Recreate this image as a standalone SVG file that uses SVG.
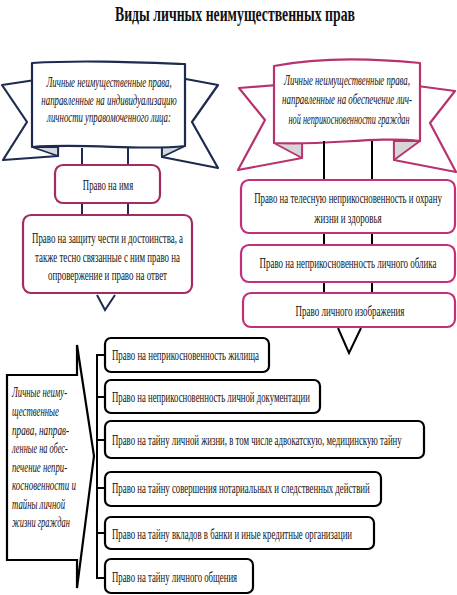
<svg xmlns="http://www.w3.org/2000/svg" width="457" height="595" viewBox="0 0 457 595">
<style>
.nv{fill:#fff;stroke:#1c2b4f;stroke-width:2.2;stroke-linejoin:round}
.mg{fill:#fff;stroke:#b8326f;stroke-width:2.2;stroke-linejoin:round}
.fnv{fill:#d3d9df;stroke:#1c2b4f;stroke-width:1.8;stroke-linejoin:round}
.fmg{fill:#d6d6d6;stroke:#b8326f;stroke-width:1.8;stroke-linejoin:round}
.bl{fill:#fff;stroke:#a52a60;stroke-width:2.2}
.br{fill:#fff;stroke:#c2307b;stroke-width:2.2}
.bk{fill:#fff;stroke:#000;stroke-width:2.2}
.t{font-family:"Liberation Serif","DejaVu Serif",serif;font-size:14px;fill:#111}
.it{font-style:italic}
.c{text-anchor:middle}
.ln{fill:none;stroke-width:2}
</style>
<g id="title"><text class="t c" transform="translate(235,21) scale(0.68,1)" style="font-size:22px;font-weight:bold" textLength="353" lengthAdjust="spacingAndGlyphs">Виды личных неимущественных прав</text></g>

<g id="ribbon-left">
<polygon class="nv" points="42,79 2,85 27,122 3,160 58,156 58,140"/>
<polygon class="fnv" points="32,147 58,147 58,156"/>
<polygon class="nv" points="175,77 218,85 192,122 218,168 162,157 162,140"/>
<polygon class="fnv" points="185,146 162,146 162,157"/>
<path class="nv" d="M32,63 C80,60 130,62 185,64 L185,146 C140,151 90,143 32,147 Z"/>
<text class="t it c" transform="translate(109,87) scale(0.68,1)" textLength="184" lengthAdjust="spacingAndGlyphs">Личные неимущественные права,</text>
<text class="t it c" transform="translate(109,105) scale(0.68,1)" textLength="199" lengthAdjust="spacingAndGlyphs">направленные на индивидуализацию</text>
<text class="t it c" transform="translate(109,122) scale(0.68,1)" textLength="182" lengthAdjust="spacingAndGlyphs">личности управомоченного лица:</text>
</g>

<g id="ribbon-right">
<polygon class="mg" points="290,84 239,88 265,120 238,170 302,158 302,140"/>
<polygon class="fmg" points="274,143 302,143 302,158"/>
<polygon class="mg" points="410,85 455,91 430,123 456,172 394,160 394,140"/>
<polygon class="fmg" points="420,141 394,141 394,160"/>
<path class="mg" d="M274,66 C320,57 370,58 420,63 L420,141 C375,136 325,146 274,143 Z"/>
<text class="t it c" transform="translate(347,85) scale(0.68,1)" textLength="185" lengthAdjust="spacingAndGlyphs">Личные неимущественные права,</text>
<text class="t it c" transform="translate(347,104) scale(0.68,1)" textLength="191" lengthAdjust="spacingAndGlyphs">направленные на обеспечение лич-</text>
<text class="t it c" transform="translate(349,124) scale(0.68,1)" textLength="178" lengthAdjust="spacingAndGlyphs">ной неприкосновенности граждан</text>
</g>

<g id="connectors">
<line class="ln" stroke="#1c2b4f" x1="82" y1="148" x2="82" y2="215"/>
<line class="ln" stroke="#1c2b4f" x1="128" y1="148" x2="128" y2="215"/>
<polyline class="ln" stroke="#1c2b4f" points="97,295 105,310 115,295"/>
<line class="ln" stroke="#000" x1="324" y1="141" x2="324" y2="293"/>
<line class="ln" stroke="#000" x1="372" y1="141" x2="372" y2="293"/>
<polyline class="ln" stroke="#000" points="338,328 349,353 361,328"/>
<line class="ln" stroke="#000" x1="97" y1="354" x2="97" y2="579"/>
<line class="ln" stroke="#000" x1="96" y1="355" x2="105" y2="355"/>
<line class="ln" stroke="#000" x1="96" y1="397" x2="105" y2="397"/>
<line class="ln" stroke="#000" x1="96" y1="440" x2="105" y2="440"/>
<line class="ln" stroke="#000" x1="96" y1="488" x2="105" y2="488"/>
<line class="ln" stroke="#000" x1="96" y1="533" x2="105" y2="533"/>
<line class="ln" stroke="#000" x1="96" y1="578" x2="105" y2="578"/>
</g>

<g id="box-name">
<rect class="bl" x="55" y="165" width="105" height="38" rx="8"/>
<text class="t c" transform="translate(108,189.5) scale(0.68,1)" textLength="74" lengthAdjust="spacingAndGlyphs">Право на имя</text>
</g>
<g id="box-honor">
<rect class="bl" x="23" y="215" width="169" height="78" rx="8"/>
<text class="t c" transform="translate(107.5,242.5) scale(0.68,1)" textLength="222" lengthAdjust="spacingAndGlyphs">Право на защиту чести и достоинства, а</text>
<text class="t c" transform="translate(107.5,261.5) scale(0.68,1)" textLength="213" lengthAdjust="spacingAndGlyphs">также тесно связанные с ним право на</text>
<text class="t c" transform="translate(107.5,279.5) scale(0.68,1)" textLength="175" lengthAdjust="spacingAndGlyphs">опровержение и право на ответ</text>
</g>

<g id="box-body">
<rect class="br" x="241" y="180" width="214" height="53" rx="8"/>
<text class="t c" transform="translate(348,202.5) scale(0.68,1)" textLength="276" lengthAdjust="spacingAndGlyphs">Право на телесную неприкосновенность и охрану</text>
<text class="t c" transform="translate(348,222.5) scale(0.68,1)" textLength="99" lengthAdjust="spacingAndGlyphs">жизни и здоровья</text>
</g>
<g id="box-appearance">
<rect class="br" x="241" y="245" width="214" height="37" rx="8"/>
<text class="t c" transform="translate(348,267.5) scale(0.68,1)" textLength="260" lengthAdjust="spacingAndGlyphs">Право на неприкосновенность личного облика</text>
</g>
<g id="box-image">
<rect class="br" x="243" y="293" width="212" height="34" rx="8"/>
<text class="t c" transform="translate(350,315.5) scale(0.68,1)" textLength="160" lengthAdjust="spacingAndGlyphs">Право личного изображения</text>
</g>

<g id="callout">
<polygon class="bk" points="7,375 77,375 77,345 94,456 77,588 77,560 7,560"/>
<text class="t it" transform="translate(12,396.5) scale(0.68,1)" textLength="81" lengthAdjust="spacingAndGlyphs">Личные неиму-</text>
<text class="t it" transform="translate(12,415.5) scale(0.68,1)" textLength="69" lengthAdjust="spacingAndGlyphs">щественные</text>
<text class="t it" transform="translate(12,434.5) scale(0.68,1)" textLength="84" lengthAdjust="spacingAndGlyphs">права, направ-</text>
<text class="t it" transform="translate(12,452.5) scale(0.68,1)" textLength="82" lengthAdjust="spacingAndGlyphs">ленные на обес-</text>
<text class="t it" transform="translate(12,471.5) scale(0.68,1)" textLength="81" lengthAdjust="spacingAndGlyphs">печение непри-</text>
<text class="t it" transform="translate(12,489.5) scale(0.68,1)" textLength="94" lengthAdjust="spacingAndGlyphs">косновенности и</text>
<text class="t it" transform="translate(12,508.5) scale(0.68,1)" textLength="78" lengthAdjust="spacingAndGlyphs">тайны личной</text>
<text class="t it" transform="translate(12,526.5) scale(0.68,1)" textLength="85" lengthAdjust="spacingAndGlyphs">жизни граждан</text>
</g>

<g id="b1"><rect class="bk" x="105" y="338" width="164" height="34" rx="6"/>
<text class="t" transform="translate(112,360) scale(0.68,1)" textLength="216" lengthAdjust="spacingAndGlyphs">Право на неприкосновенность жилища</text></g>
<g id="b2"><rect class="bk" x="105" y="380" width="215" height="33" rx="6"/>
<text class="t" transform="translate(112,402) scale(0.68,1)" textLength="291" lengthAdjust="spacingAndGlyphs">Право на неприкосновенность личной документации</text></g>
<g id="b3"><rect class="bk" x="105" y="421" width="319" height="37" rx="6"/>
<text class="t" transform="translate(112,445) scale(0.68,1)" textLength="426" lengthAdjust="spacingAndGlyphs">Право на тайну личной жизни, в том числе адвокатскую, медицинскую тайну</text></g>
<g id="b4"><rect class="bk" x="105" y="472" width="276" height="34" rx="6"/>
<text class="t" transform="translate(112,492.5) scale(0.68,1)" textLength="379" lengthAdjust="spacingAndGlyphs">Право на тайну совершения нотариальных и следственных действий</text></g>
<g id="b5"><rect class="bk" x="105" y="517" width="269" height="32" rx="6"/>
<text class="t" transform="translate(112,538.5) scale(0.68,1)" textLength="353" lengthAdjust="spacingAndGlyphs">Право на тайну вкладов в банки и иные кредитные организации</text></g>
<g id="b6"><rect class="bk" x="105" y="559" width="148" height="34" rx="6"/>
<text class="t" transform="translate(112,582) scale(0.68,1)" textLength="184" lengthAdjust="spacingAndGlyphs">Право на тайну личного общения</text></g>
</svg>
